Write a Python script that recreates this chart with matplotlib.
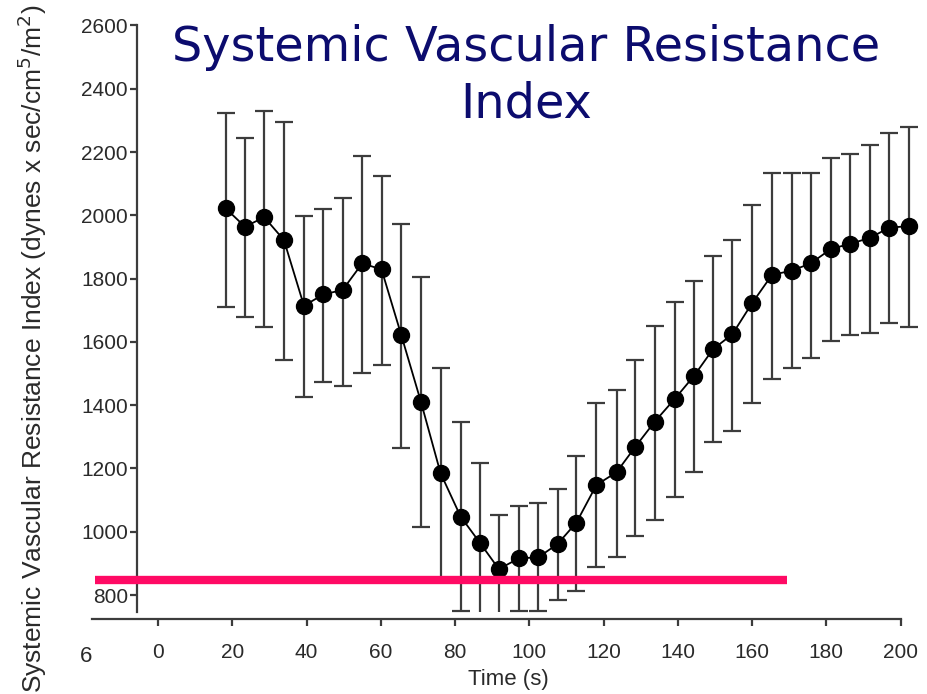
import matplotlib
matplotlib.use("Agg")
import matplotlib.pyplot as plt
import numpy as np

# Time points (s) and SVRI mean with SD bounds
time_s = [18.2, 23.4, 28.6, 33.9, 39.3, 44.5, 49.7, 55.0, 60.2, 65.5, 70.8, 76.1,
          81.5, 86.7, 91.8, 97.2, 102.4, 107.6, 112.7, 118.1, 123.5, 128.6, 133.8,
          139.2, 144.4, 149.5, 154.7, 160.0, 165.4, 170.7, 175.8, 181.3, 186.5,
          191.8, 197.0, 202.4]
svri_mean = [2022, 1964, 1994, 1922, 1714, 1750, 1764, 1848, 1829, 1622, 1411, 1185,
             1048, 965, 882, 916, 919, 961, 1029, 1148, 1188, 1269, 1348, 1420,
             1493, 1577, 1624, 1722, 1812, 1825, 1848, 1894, 1910, 1929, 1961, 1966]
svri_upper = [2322, 2245, 2331, 2296, 1998, 2019, 2054, 2188, 2124, 1973, 1804, 1517,
              1348, 1218, 1053, 1081, 1090, 1135, 1240, 1406, 1448, 1543, 1651, 1725,
              1793, 1871, 1922, 2033, 2135, 2135, 2135, 2180, 2194, 2222, 2259, 2278]
svri_lower = [1711, 1678, 1648, 1543, 1427, 1474, 1462, 1501, 1527, 1264, 1014, 855,
              748, 712, 711, 751, 748, 784, 814, 888, 919, 987, 1037, 1109,
              1190, 1283, 1318, 1406, 1482, 1519, 1550, 1604, 1622, 1627, 1659, 1648]

# Reference threshold line
threshold_x = [-17.0, 169.3]
threshold_y = 846

x_ticks = list(range(0, 201, 20))
y_ticks = list(range(800, 2601, 200))

plt.rcParams['font.family'] = ['Liberation Sans', 'DejaVu Sans']

W, H = 928, 694
fig = plt.figure(figsize=(W / 100, H / 100), dpi=100)
ax = fig.add_axes([92 / W, 1 - 612.1 / H, (925 - 92) / W, (612.1 - 22.3) / H])

mean = np.array(svri_mean)
err = [mean - np.array(svri_lower), np.array(svri_upper) - mean]

ink = '#3c3c3c'
text_ink = '#2a2a2a'
ax.errorbar(time_s, svri_mean, yerr=err, fmt='none', ecolor=ink, elinewidth=1.6,
            capsize=6.5, capthick=1.6, zorder=2)
ax.plot(time_s, svri_mean, '-', color='black', lw=1.3, zorder=3)
ax.plot(time_s, svri_mean, 'o', color='black', ms=11.5, zorder=4)

ax.plot(threshold_x, [threshold_y, threshold_y], color='#ff0a64', lw=6,
        solid_capstyle='butt', zorder=5, clip_on=False)

ax.set_xlim(-17.8, 206.6)
ax.set_ylim(746, 2610)

for side in ('top', 'right'):
    ax.spines[side].set_visible(False)
ax.spines['left'].set_position(('data', -5.7))
ax.spines['left'].set_bounds(746, 2600)
ax.spines['bottom'].set_position(('outward', 5))
ax.spines['bottom'].set_bounds(-17.8, 200)
for side in ('left', 'bottom'):
    ax.spines[side].set_color(ink)
    ax.spines[side].set_linewidth(1.6)

ax.set_xticks(x_ticks)
ax.set_yticks(y_ticks)
ax.tick_params(axis='both', colors=ink, width=1.6, length=5, labelsize=15,
               labelcolor=text_ink, pad=1.5)
ax.tick_params(axis='x', pad=12)

ax.set_xlabel('Time (s)', fontsize=16, color=text_ink, labelpad=5)
fig.text(32 / W, 1 - 349 / H,
         'Systemic Vascular Resistance Index (dynes x sec/cm$^5$/m$^2$)',
         rotation=90, ha='center', va='center', fontsize=19, color=text_ink)

fig.text(92.5 / W, 1 - 657 / H, '6', ha='right', va='center', fontsize=16,
         color=text_ink)

fig.text(526 / W, 1 - 76 / H, 'Systemic Vascular Resistance\nIndex',
         ha='center', va='center', fontsize=34.5, color='#0c0c6e',
         family='DejaVu Sans', linespacing=1.27)

fig.savefig('out.png', dpi=100)
